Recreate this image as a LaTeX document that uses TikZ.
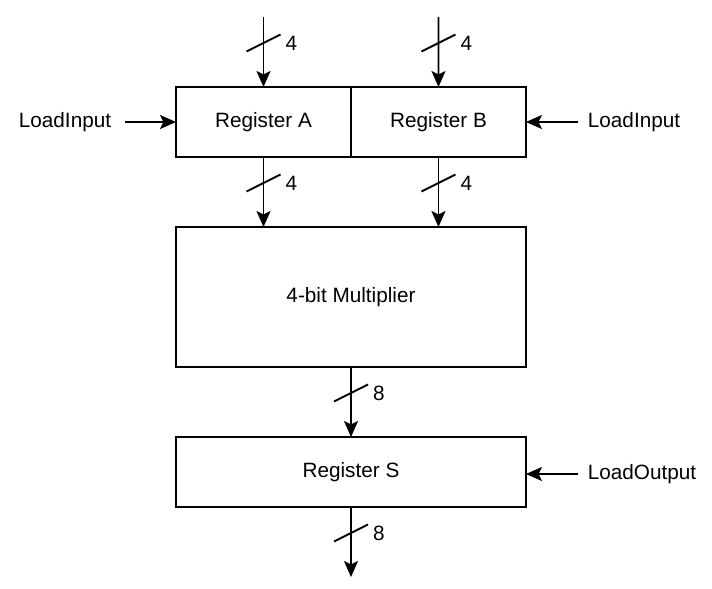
\documentclass[tikz,border=0pt]{standalone}
\usepackage{fontspec}
\setmainfont{Liberation Sans}
\usetikzlibrary{arrows.meta,calc,positioning}

\tikzset{
    block/.style={draw, line width=1pt, minimum width=3.5cm, minimum height=1.4cm, inner sep=0pt, outer sep=0pt},
    bus/.style={line width=1.1pt, -{Stealth[length=0.32cm, width=0.28cm, inset=0.07cm]}},
    ctl/.style={line width=1.1pt, -{Stealth[length=0.32cm, width=0.28cm, inset=0.07cm]}},
    bus tick/.style={line width=1.1pt},
    wlabel/.style={anchor=west, inner sep=1pt}
}

% slash with bus width: #1 mid coordinate, #2 width, #3 node name
\newcommand{\busmark}[3]{%
    \draw[bus tick] ($(#1)+(-17,-0.5)$) -- ($(#1)+(17,-17.5)$);
    \node[wlabel] (#3) at ($(#1)+(20,-9)$) {#2};
}

\begin{document}
\begin{tikzpicture}[x=0.02cm, y=-0.02cm, font=\fontsize{11.8}{14}\selectfont]
    \useasboundingbox (0,0) rectangle (712,588);

    % Registers and multiplier
    \node[block] (regA) at (263.5,122) {Register A};
    \node[block, right=0pt of regA] (regB) {Register B};
    \node[block, minimum width=7cm, minimum height=2.8cm] (mult) at (351,297) {4-bit Multiplier};
    \node[block, minimum width=7cm] (regS) at (351,472) {Register S};

    % Control signals
    \node (ldA) at (65,122) {LoadInput};
    \node (ldB) at (634,122) {LoadInput};
    \node (ldS) at (642,474) {LoadOutput};
    \coordinate (cA) at (125,122);
    \coordinate (cB) at (578,122);
    \coordinate (cS) at (578,474);
    \draw[ctl] (cA) -- (regA.west);
    \draw[ctl] (cB) -- (regB.east);
    \draw[ctl] (cS) -- (regS.east |- cS);

    % Input buses
    \coordinate (inA) at (263.5,17);
    \coordinate (inB) at (438.5,17);
    \draw[bus] (inA) -- coordinate[midway] (mA) (regA.north);
    \draw[bus] (inB) -- coordinate[midway] (mB) (regB.north);
    \busmark{mA}{4}{wA}
    \busmark{mB}{4}{wB}

    % Register outputs to multiplier
    \draw[bus] (regA.south) -- coordinate[midway] (mA2) (regA.south |- mult.north);
    \draw[bus] (regB.south) -- coordinate[midway] (mB2) (regB.south |- mult.north);
    \busmark{mA2}{4}{wA2}
    \busmark{mB2}{4}{wB2}

    % Product
    \draw[bus] (mult.south) -- coordinate[midway] (mP) (regS.north);
    \busmark{mP}{8}{wP}

    % Output bus
    \coordinate (outS) at (351,577);
    \draw[bus] (regS.south) -- coordinate[midway] (mS) (outS);
    \busmark{mS}{8}{wS}
\end{tikzpicture}
\end{document}
